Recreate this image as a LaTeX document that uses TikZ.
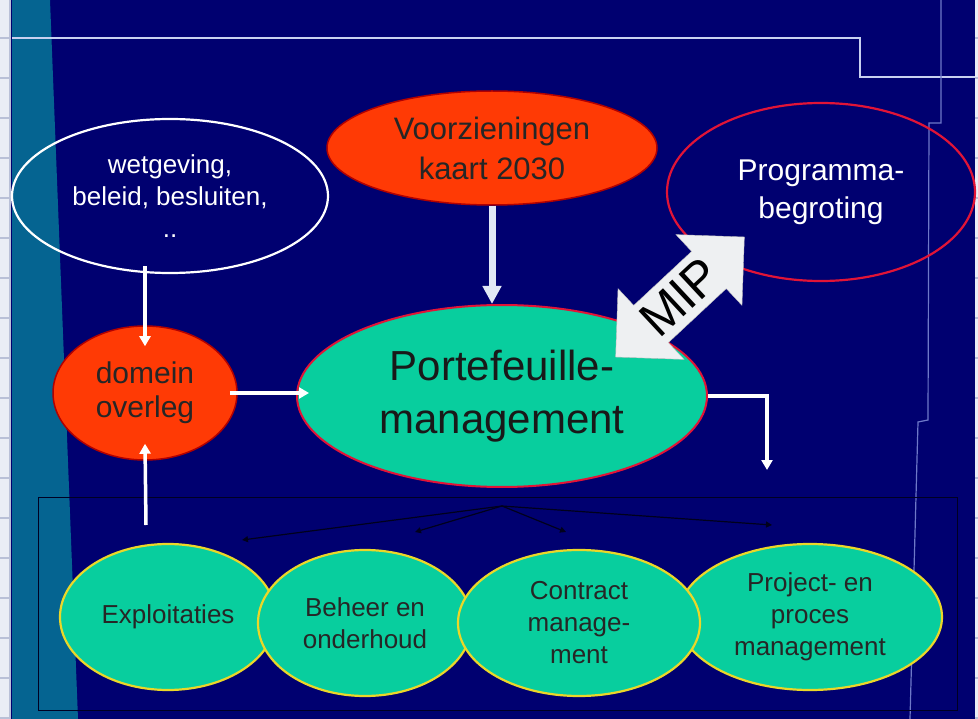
\documentclass[tikz,border=0pt]{standalone}
\usepackage{fontspec}
\setmainfont{Liberation Sans}
\usetikzlibrary{shapes.geometric,shapes.arrows,arrows.meta,positioning}

\definecolor{navy}{RGB}{0,0,112}
\definecolor{strip}{RGB}{5,100,145}
\definecolor{rand}{RGB}{234,237,245}
\definecolor{tick}{RGB}{185,192,215}
\definecolor{oranje}{RGB}{255,58,5}
\definecolor{mint}{RGB}{8,206,158}
\definecolor{geel}{RGB}{235,215,40}
\definecolor{rood}{RGB}{225,20,55}
\definecolor{lijn}{RGB}{200,208,240}
\definecolor{dun}{RGB}{110,120,200}

\begin{document}
\begin{tikzpicture}[x=1pt,y=-1pt,
    bubble/.style={ellipse,inner sep=0pt,align=center},
    red bubble/.style={bubble,fill=oranje,draw=red!70!black,line width=1.5pt,text=black!85},
    green bubble/.style={bubble,fill=mint,draw=rood,line width=2pt,text=black!90},
    task/.style={bubble,fill=mint,draw=geel,line width=2.2pt,text=black!85,font=\fontsize{26}{32}\selectfont},
    flow/.style={draw=white,line width=3.5pt,-{Triangle[width=11pt,length=10pt]}},
    fan/.style={draw=black!75!navy,line width=1.2pt,-{Triangle[width=6pt,length=6pt]}}]
    \useasboundingbox (0,0) rectangle (978,719);

    % background and frame
    \fill[navy] (0,0) rectangle (978,719);
    \fill[strip] (12,0) -- (50,0) -- (78,719) -- (12,719) -- cycle;
    \fill[rand] (0,0) rectangle (9,719);
    \fill[rand] (975,0) rectangle (978,719);
    \draw[tick,line width=2pt] (10,0) -- (10,719);
    \foreach \y in {38,78,...,718} {
        \draw[tick,line width=2pt] (0,\y) -- (9,\y);
        \draw[tick,line width=2pt] (975,\y) -- (978,\y);
    }
    \draw[lijn,line width=2pt] (12,38) -- (860,38) -- (860,77) -- (975,77);
    \draw[dun,line width=1.2pt] (941,0) -- (941,123) -- (929,123) -- (928,420) -- (918,422) -- (910,719);
    \draw[black!70!navy,line width=1pt] (38,497) rectangle (957,710);

    % ellipses
    \node[bubble,draw=white,line width=2.2pt,minimum width=316,minimum height=154,text=white,font=\fontsize{26}{32}\selectfont] (wet) at (170,196) {wetgeving,\\beleid, besluiten,\\..};
    \node[red bubble,minimum width=184,minimum height=134,font=\fontsize{30}{34}\selectfont] (domein) at (145,393) {domein\\overleg};
    \node[red bubble,minimum width=330,minimum height=114,font=\fontsize{31}{40}\selectfont] (kaart) at (492,148) {Voorzieningen\\kaart 2030};
    \node[green bubble,minimum width=410,minimum height=182,font=\fontsize{42}{53}\selectfont] (port) at (502,396) {Portefeuille-\\management};
    \node[bubble,draw=rood,line width=2.2pt,minimum width=308,minimum height=178,text=white,font=\fontsize{30}{38}\selectfont] (begr) at (821,192) {Programma-\\begroting};

    % bottom row
    \node[task,minimum width=216,minimum height=146] (expl) at (168,617) {Exploitaties};
    \node[task,minimum width=214,minimum height=146] (beheer) at (365,623) {Beheer en\\onderhoud};
    \node[task,minimum width=264,minimum height=146] (project) at (810,617) {Project- en\\proces\\management};
    \node[task,minimum width=242,minimum height=146] (contract) at (579,623) {Contract\\manage-\\ment};

    % MIP
    \node[double arrow,fill={rgb,255:red,238;green,240;blue,242},draw=gray!50,rotate=43,minimum height=176,double arrow head extend=23,inner xsep=0pt,inner ysep=8pt,font=\fontsize{50}{50}\selectfont] (mip) at (680,297) {MIP};

    % arrows
    \coordinate (base) at (146,525);
    \coordinate (drop) at (767,470);
    \draw[flow] ([yshift=8pt]wet.south -| domein.north) -- ([yshift=-21pt]domein.north);
    \draw[flow] (base) -- ([yshift=17pt]domein.south);
    \draw[flow] ([xshift=-8pt]domein.east) -- ([xshift=13pt]domein.east -| port.west);
    \draw[flow] (port.east) -| (drop);
    \draw[draw={rgb,255:red,225;green,232;blue,245},line width=7pt,-{Triangle[width=18pt,length=18pt]}] (kaart.south) -- (kaart.south |- port.north);

    % fan to the tasks
    \coordinate[below=18pt of port.south] (fan);
    \coordinate (t1) at (242,540);
    \coordinate (t2) at (415,532);
    \coordinate (t3) at (566,532);
    \coordinate (t4) at (772,525);
    \foreach \t in {t1,t2,t3,t4}
        \draw[fan] (fan) -- (\t);
\end{tikzpicture}
\end{document}
